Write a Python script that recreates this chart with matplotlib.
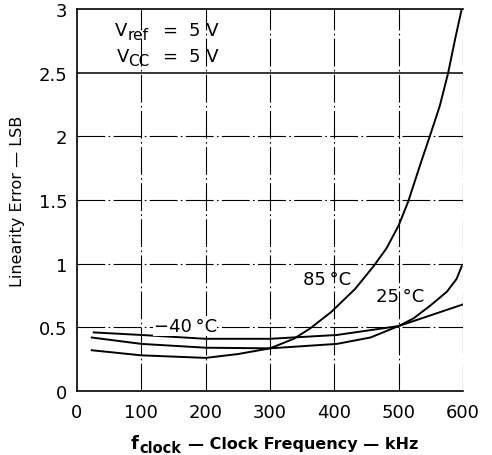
import matplotlib
matplotlib.use("Agg")
import matplotlib.pyplot as plt

plt.rcParams['font.family'] = ['DejaVu Sans']

# Data
freq_85 = [23, 100, 200, 250, 300, 337, 362, 395, 432, 461, 481, 500, 515,
           533, 549, 564, 577, 588, 598]
err_85 = [0.32, 0.28, 0.26, 0.29, 0.335, 0.41, 0.49, 0.62, 0.80, 0.98, 1.12, 1.30,
          1.49, 1.77, 2.01, 2.24, 2.50, 2.77, 3.0]

freq_25 = [23, 100, 200, 300, 404, 456, 500, 523, 549, 575, 590, 598]
err_25 = [0.42, 0.37, 0.34, 0.335, 0.37, 0.42, 0.51, 0.57, 0.67, 0.78, 0.88, 0.98]

freq_m40 = [26, 100, 200, 300, 404, 500, 600]
err_m40 = [0.46, 0.44, 0.41, 0.41, 0.44, 0.51, 0.68]

xticks = [0, 100, 200, 300, 400, 500, 600]
yticks = [0, 0.5, 1, 1.5, 2, 2.5, 3]
ytick_labels = ["0", "0.5", "1", "1.5", "2", "2.5", "3"]

W, H = 492, 456
fig = plt.figure(figsize=(W / 100, H / 100), dpi=100)
ax = fig.add_axes([77 / W, (H - 392) / H, 386 / W, 382 / H])


def px_text(x, y, s, **kw):
    # place text by pixel position measured from the top-left corner
    fig.text(x / W, (H - y) / H, s, va="baseline", ha="left", **kw)


# grid
grid_style = dict(color="black", lw=0.8, linestyle=(0, (25, 3, 1.5, 3)), zorder=1)
for x in xticks[1:]:
    ax.axvline(x, **grid_style)
for y in yticks[1:-1]:
    if y == 2.5:
        ax.axhline(y, color="black", lw=1.1, zorder=1)
    else:
        ax.axhline(y, **grid_style)

ax.plot(freq_85, err_85, color="black", lw=1.4, zorder=3)
ax.plot(freq_25, err_25, color="black", lw=1.4, zorder=3)
ax.plot(freq_m40, err_m40, color="black", lw=1.4, zorder=3)

ax.set_xlim(0, 600)
ax.set_ylim(0, 3)
ax.set_xticks(xticks)
ax.set_yticks(yticks)
ax.set_yticklabels(ytick_labels)
ax.tick_params(length=0, labelsize=13)
ax.tick_params(axis="y", pad=7)
ax.tick_params(axis="x", pad=9)
ax.spines['right'].set_visible(False)
for s in ['left', 'bottom', 'top']:
    ax.spines[s].set_linewidth(1.2)

# condition box text
px_text(115, 36, "V", fontsize=13)
px_text(128, 39.5, "ref", fontsize=11)
px_text(162, 36, "=", fontsize=13)
px_text(189, 36, "5 V", fontsize=13)
px_text(117, 62, "V", fontsize=13)
px_text(128, 65.5, "CC", fontsize=11)
px_text(162, 62, "=", fontsize=13)
px_text(189, 62, "5 V", fontsize=13)

ax.text(388, 0.88, "85\u2009°C", fontsize=13, ha="center", va="center", zorder=4)
ax.text(503, 0.75, "25\u2009°C", fontsize=13, ha="center", va="center", zorder=4)
ax.text(168, 0.51, "\u221240\u2009°C", fontsize=13, ha="center", va="center", zorder=4,
        bbox=dict(facecolor="white", edgecolor="none", pad=0.5))

ax.set_ylabel("Linearity Error \u2014 LSB", fontsize=11.5, labelpad=10)

# x label built from pieces so the subscript stays large and bold
px_text(131, 449, "f", fontsize=13, fontweight="bold")
px_text(139, 453, "clock", fontsize=10.5, fontweight="bold")
px_text(188, 449, "\u2014 Clock Frequency \u2014 kHz", fontsize=11.5, fontweight="bold")

fig.savefig("out.png", dpi=100)
